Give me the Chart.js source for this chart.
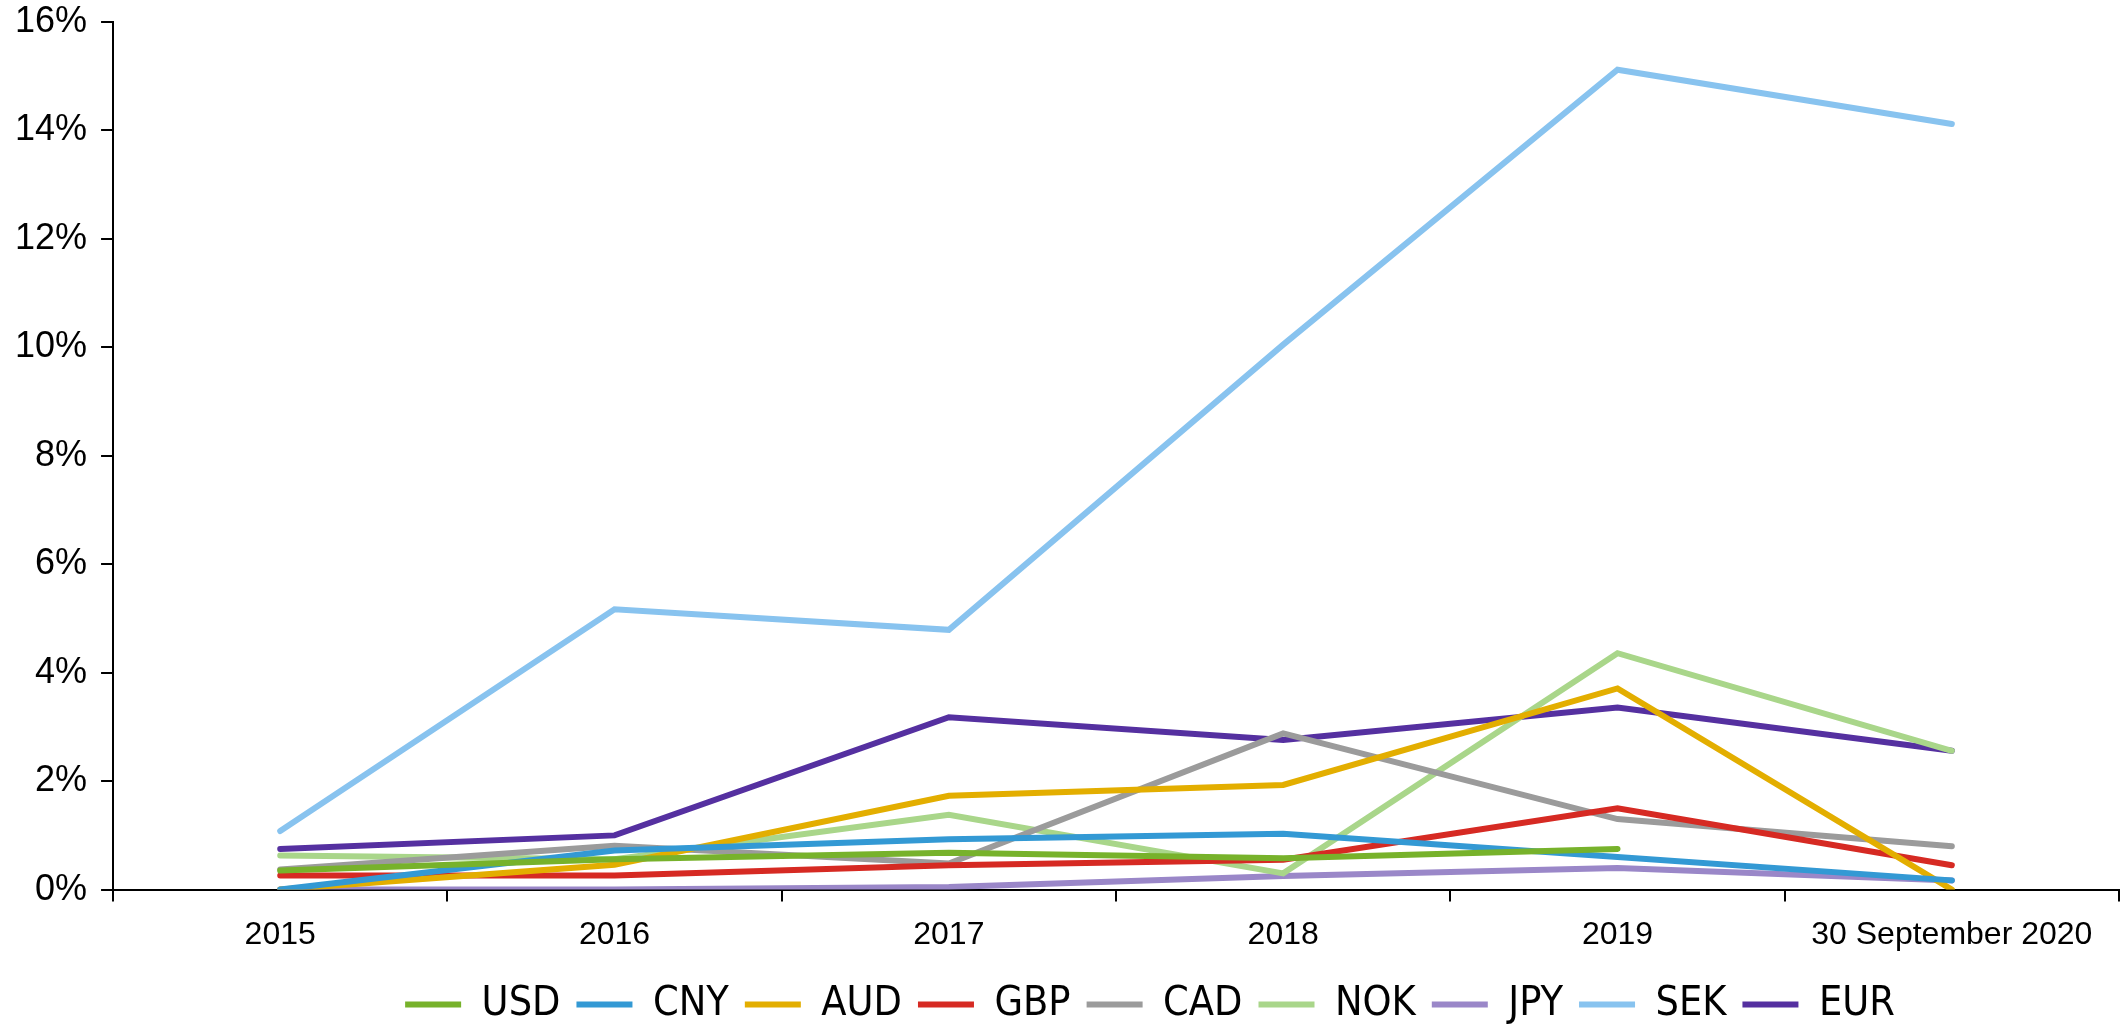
<!DOCTYPE html>
<html>
<head>
<meta charset="utf-8">
<script src="https://cdn.jsdelivr.net/npm/chart.js@4"></script>
<style>
  html, body { margin: 0; padding: 0; background: #fff; }
  #wrap { width: 2123px; height: 1025px; }
</style>
</head>
<body>
<div id="wrap"><canvas id="fxChart"></canvas></div>
<script>
var years = ['2015', '2016', '2017', '2018', '2019', '30 September 2020'];
var yTicks = [0, 2, 4, 6, 8, 10, 12, 14, 16];

var usd = [0.35, 0.56, 0.68, 0.58, 0.75, null];
var cny = [0.0, 0.72, 0.93, 1.03, 0.60, 0.17];
var aud = [0.0, 0.46, 1.73, 1.93, 3.71, 0.0];
var gbp = [0.26, 0.26, 0.45, 0.55, 1.50, 0.45];
var cad = [0.37, 0.81, 0.48, 2.88, 1.30, 0.80];
var nok = [0.63, 0.56, 1.38, 0.30, 4.36, 2.56];
var jpy = [0.0, 0.0, 0.05, 0.25, 0.40, 0.17];
var sek = [1.08, 5.17, 4.79, 10.05, 15.12, 14.12];
var eur = [0.75, 1.00, 3.18, 2.76, 3.36, 2.56];

function series(label, data, color) {
  return {
    label: label,
    data: data,
    borderColor: color,
    backgroundColor: color,
    borderWidth: 6,
    pointRadius: 0,
    pointHoverRadius: 0,
    borderCapStyle: 'round',
    borderJoinStyle: 'miter',
    tension: 0,
    fill: false
  };
}

// legend in the original sits a bit right of the canvas centre
var legendShift = {
  id: 'legendShift',
  afterLayout: function (chart) {
    chart.legend.left += 90;
    chart.legend.right += 90;
  }
};

var ctx = document.getElementById('fxChart').getContext('2d');
var myChart = new Chart(ctx, {
  type: 'line',
  data: {
    labels: years,
    datasets: [
      series('USD', usd, '#77b22b'),
      series('CNY', cny, '#3399d4'),
      series('AUD', aud, '#e3ae00'),
      series('GBP', gbp, '#d62a23'),
      series('CAD', cad, '#9b9b9b'),
      series('NOK', nok, '#a9d68a'),
      series('JPY', jpy, '#9a87c8'),
      series('SEK', sek, '#88c3ef'),
      series('EUR', eur, '#5530a0')
    ]
  },
  plugins: [legendShift],
  options: {
    responsive: true,
    maintainAspectRatio: false,
    animation: false,
    layout: { padding: { top: 22, right: 4, left: 1, bottom: -10 } },
    plugins: {
      tooltip: { enabled: false },
      legend: {
        position: 'bottom',
        labels: {
          usePointStyle: true,
          pointStyle: 'line',
          pointStyleWidth: 56,
          padding: 16,
          color: '#000',
          font: { family: "'DejaVu Sans Condensed', sans-serif", size: 41 }
        }
      }
    },
    scales: {
      x: {
        offset: true,
        grid: {
          offset: true,
          display: true,
          drawOnChartArea: false,
          drawTicks: true,
          tickLength: 12,
          color: '#000',
          lineWidth: 2
        },
        border: { display: true, color: '#000', width: 2 },
        ticks: {
          color: '#000',
          padding: 14,
          maxRotation: 0,
          autoSkip: false,
          font: { family: "'Liberation Sans', sans-serif", size: 32 }
        }
      },
      y: {
        min: 0,
        max: 16,
        afterBuildTicks: function (axis) {
          axis.ticks = yTicks.map(function (v) { return { value: v }; });
        },
        afterFit: function (scale) {
          scale.paddingTop = 0;
        },
        grid: {
          display: true,
          drawOnChartArea: false,
          drawTicks: true,
          tickLength: 12,
          color: '#000',
          lineWidth: 2
        },
        border: { display: true, color: '#000', width: 2 },
        ticks: {
          color: '#000',
          padding: 14,
          font: { family: "'Liberation Sans', sans-serif", size: 36 },
          callback: function (v) { return v + '%'; }
        }
      }
    }
  }
});
</script>
</body>
</html>
